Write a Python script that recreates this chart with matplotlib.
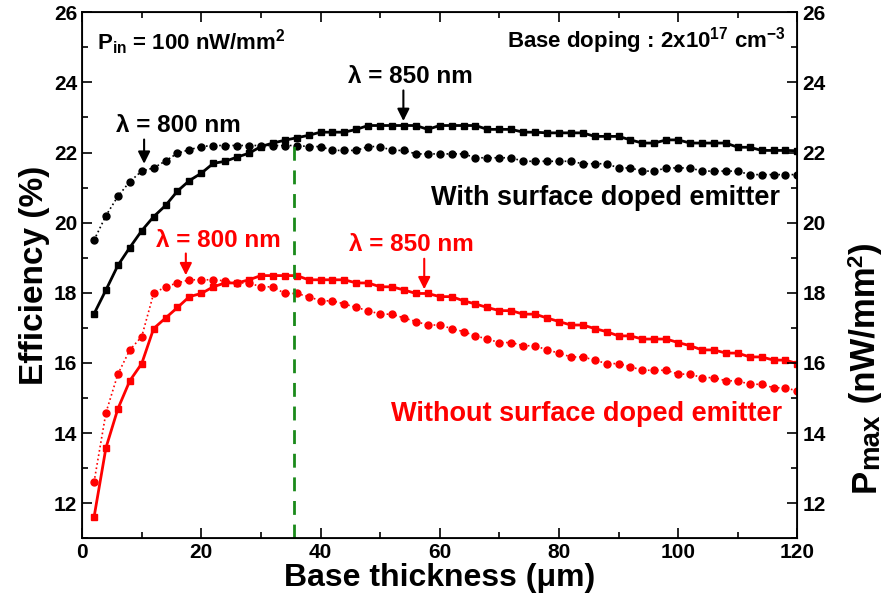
import numpy as np
import matplotlib
matplotlib.use('Agg')
import matplotlib.pyplot as plt
from matplotlib.ticker import MultipleLocator
from matplotlib.transforms import IdentityTransform

plt.rcParams['font.family'] = ['Liberation Sans', 'DejaVu Sans']
plt.rcParams['font.weight'] = 'bold'
plt.rcParams['mathtext.fontset'] = 'custom'
plt.rcParams['mathtext.rm'] = 'Liberation Sans:bold'
plt.rcParams['mathtext.it'] = 'Liberation Sans:bold'
plt.rcParams['mathtext.bf'] = 'Liberation Sans:bold'

# base thickness (um)
thickness = [2, 4, 6, 8, 10, 12, 14, 16, 18, 20, 22, 24, 26, 28, 30, 32, 34, 36, 38, 40,
             42, 44, 46, 48, 50, 52, 54, 56, 58, 60, 62, 64, 66, 68, 70, 72, 74, 76, 78, 80,
             82, 84, 86, 88, 90, 92, 94, 96, 98, 100, 102, 104, 106, 108, 110, 112, 114, 116, 118, 120]

# with surface doped emitter
with_800 = [19.5, 20.2, 20.75, 21.17, 21.47, 21.56, 21.76, 21.98, 22.08, 22.17,
            22.2, 22.2, 22.2, 22.2, 22.2, 22.2, 22.2, 22.2, 22.17, 22.17,
            22.06, 22.06, 22.06, 22.17, 22.17, 22.06, 22.06, 21.96, 21.96, 21.96,
            21.96, 21.96, 21.85, 21.85, 21.85, 21.85, 21.75, 21.75, 21.75, 21.75,
            21.75, 21.68, 21.68, 21.68, 21.56, 21.56, 21.47, 21.47, 21.56, 21.56,
            21.56, 21.47, 21.47, 21.47, 21.47, 21.37, 21.37, 21.37, 21.37, 21.37]
with_850 = [17.4, 18.08, 18.78, 19.29, 19.77, 20.17, 20.49, 20.9, 21.2, 21.41,
            21.69, 21.75, 21.87, 21.98, 22.17, 22.27, 22.35, 22.42, 22.49, 22.58,
            22.58, 22.58, 22.66, 22.77, 22.77, 22.77, 22.77, 22.77, 22.66, 22.77,
            22.77, 22.77, 22.77, 22.66, 22.66, 22.66, 22.58, 22.58, 22.56, 22.56,
            22.56, 22.56, 22.46, 22.46, 22.46, 22.36, 22.27, 22.27, 22.36, 22.36,
            22.27, 22.27, 22.27, 22.27, 22.15, 22.15, 22.06, 22.06, 22.06, 22.05]

# without surface doped emitter
without_800 = [12.6, 14.58, 15.68, 16.37, 16.75, 17.98, 18.17, 18.28, 18.37, 18.37,
               18.37, 18.34, 18.28, 18.28, 18.17, 18.17, 17.98, 17.98, 17.89, 17.77,
               17.77, 17.68, 17.58, 17.49, 17.39, 17.39, 17.28, 17.18, 17.08, 17.08,
               16.98, 16.89, 16.77, 16.68, 16.58, 16.58, 16.49, 16.49, 16.37, 16.28,
               16.17, 16.17, 16.08, 15.98, 15.98, 15.89, 15.79, 15.79, 15.79, 15.68,
               15.68, 15.58, 15.58, 15.49, 15.49, 15.39, 15.39, 15.29, 15.29, 15.2]
without_850 = [11.6, 13.58, 14.69, 15.49, 15.98, 16.98, 17.28, 17.58, 17.89, 17.98,
               18.17, 18.28, 18.28, 18.37, 18.49, 18.49, 18.49, 18.49, 18.37, 18.37,
               18.37, 18.37, 18.28, 18.28, 18.17, 18.17, 18.08, 17.98, 17.98, 17.89,
               17.89, 17.77, 17.68, 17.58, 17.49, 17.49, 17.39, 17.39, 17.28, 17.18,
               17.08, 17.08, 16.98, 16.89, 16.77, 16.77, 16.68, 16.68, 16.68, 16.58,
               16.49, 16.37, 16.37, 16.28, 16.28, 16.17, 16.17, 16.08, 16.08, 15.98]

opt_thickness = 35.5

fig = plt.figure(figsize=(8.83, 6.13), dpi=100)
ax = fig.add_axes([0.093, 0.122, 0.81, 0.858])

ax.plot(thickness, with_800, ':', color='black', lw=1.2, marker='o', ms=5)
ax.plot(thickness, with_850, '-', color='black', lw=2, marker='s', ms=4.5)
ax.plot(thickness, without_800, ':', color='red', lw=1.2, marker='o', ms=5)
ax.plot(thickness, without_850, '-', color='red', lw=2, marker='s', ms=4.5)
ax.plot([opt_thickness, opt_thickness], [11, 22.2], '--', color='#1a8a1a', lw=2, dashes=(5, 3.5))

ax.set_xlim(0, 120)
ax.set_ylim(11, 26)
ax.xaxis.set_major_locator(MultipleLocator(20))
ax.xaxis.set_minor_locator(MultipleLocator(10))
ax.yaxis.set_major_locator(MultipleLocator(2))
ax.yaxis.set_minor_locator(MultipleLocator(1))
ax.tick_params(which='both', direction='in', top=True, right=False,
               width=1.2, labelsize=15)
ax.tick_params(which='major', length=7)
ax.tick_params(which='minor', length=4)
for s in ax.spines.values():
    s.set_linewidth(1.3)
ax.set_xlabel('Base thickness (μm)', fontsize=23, fontweight='bold', labelpad=1)
ax.set_ylabel('Efficiency (%)', fontsize=24, fontweight='bold', labelpad=3)

ax2 = ax.twinx()
ax2.set_ylim(11, 26)
ax2.yaxis.set_major_locator(MultipleLocator(2))
ax2.yaxis.set_minor_locator(MultipleLocator(1))
ax2.tick_params(which='both', direction='in', width=1.2, labelsize=15)
ax2.tick_params(which='major', length=7)
ax2.tick_params(which='minor', length=4)

# right axis title built piece by piece so the subscript stays large
renderer = fig.canvas.get_renderer()
pieces = [('P', 25, 875), ('max', 20, 878), (' (nW/mm', 25, 875), ('2', 16, 862), (')', 25, 875)]
y_pos = 613 - 492
for txt, size, xb in pieces:
    t = fig.text(xb, y_pos, txt, fontsize=size, fontweight='bold', rotation=90,
                 rotation_mode='anchor', ha='left', va='baseline',
                 transform=IdentityTransform())
    y_pos += t.get_window_extent(renderer).height

arrow = dict(arrowstyle='-|>', lw=1.5, mutation_scale=18)
lam = 17.5
ax.text(16.1, 22.77, 'λ = 800 nm', ha='center', va='center', fontsize=lam, color='black')
ax.annotate('', xy=(10.4, 21.6), xytext=(10.4, 22.45), arrowprops=dict(arrow, color='black'))
ax.text(55, 24.17, 'λ = 850 nm', ha='center', va='center', fontsize=lam, color='black')
ax.annotate('', xy=(53.9, 22.82), xytext=(53.9, 23.85), arrowprops=dict(arrow, color='black'))
ax.text(22.8, 19.49, 'λ = 800 nm', ha='center', va='center', fontsize=lam, color='red')
ax.annotate('', xy=(17.4, 18.42), xytext=(17.4, 19.2), arrowprops=dict(arrow, color='red'))
ax.text(55.2, 19.37, 'λ = 850 nm', ha='center', va='center', fontsize=lam, color='red')
ax.annotate('', xy=(57.4, 18.02), xytext=(57.4, 19.05), arrowprops=dict(arrow, color='red'))

ax.text(117.1, 20.69, 'With surface doped emitter', ha='right', va='center', fontsize=19.5, color='black')
ax.text(117.4, 14.54, 'Without surface doped emitter', ha='right', va='center', fontsize=19.5, color='red')
ax.text(2.5, 25.14, r'P$_{in}$ = 100 nW/mm$^2$', ha='left', va='center', fontsize=16)
ax.text(118, 25.2, r'Base doping : 2x10$^{17}$ cm$^{-3}$', ha='right', va='center', fontsize=16)

fig.savefig('out.png', dpi=100)
